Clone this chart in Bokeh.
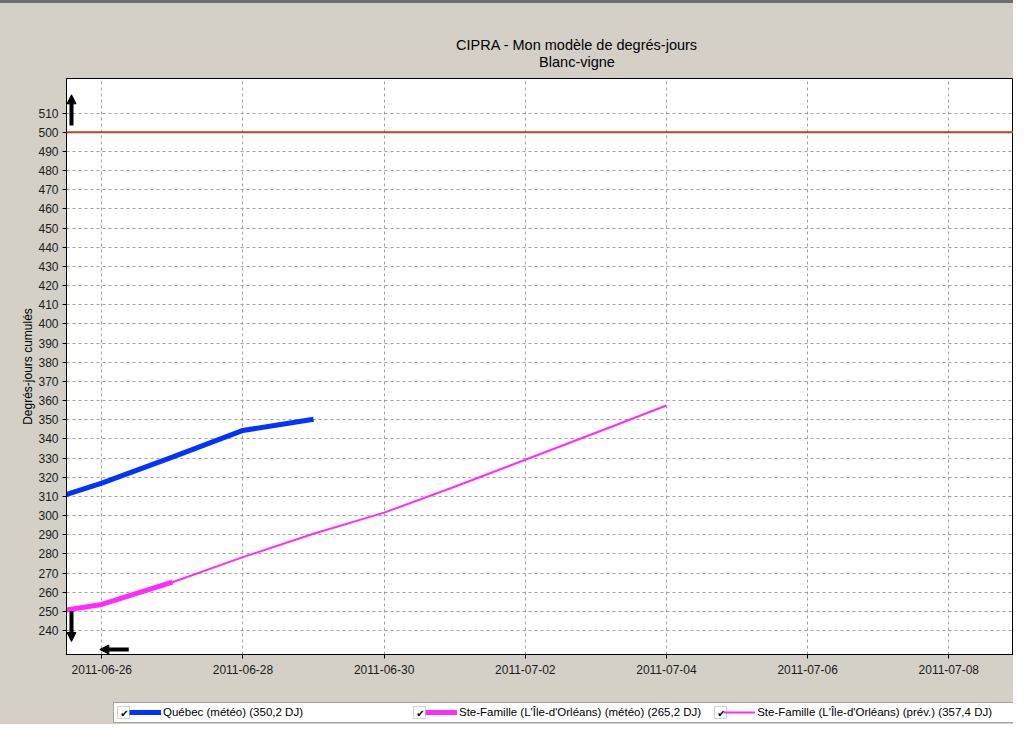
import pandas as pd
from bokeh.plotting import figure
from bokeh.layouts import column
from bokeh.models import (ColumnDataSource, Range1d, FixedTicker, DatetimeTickFormatter,
                          Span, Legend, LegendItem, Label, Arrow, NormalHead, BoxAnnotation)
from bokeh.embed import file_html
from bokeh.resources import INLINE

# ---------------- data ----------------
TITLE = "CIPRA - Mon modèle de degrés-jours"
SUBTITLE = "Blanc-vigne"
Y_LABEL = "Degrés-jours cumulés"

quebec_dates = ["2011-06-25", "2011-06-26", "2011-06-27", "2011-06-28", "2011-06-29"]
quebec_values = [305.0, 316.9, 330.5, 344.4, 350.2]

sf_meteo_dates = ["2011-06-25", "2011-06-26", "2011-06-27"]
sf_meteo_values = [248.0, 253.6, 265.2]

sf_prev_dates = ["2011-06-25", "2011-06-26", "2011-06-27", "2011-06-28", "2011-06-29",
                 "2011-06-30", "2011-07-01", "2011-07-02", "2011-07-03", "2011-07-04"]
sf_prev_values = [248.0, 253.6, 265.2, 278.3, 290.5, 301.5, 315.0, 329.1, 343.2, 357.4]

threshold = 500

legend_labels = ["Québec (météo) (350,2 DJ)",
                 "Ste-Famille (L'Île-d'Orléans) (météo) (265,2 DJ)",
                 "Ste-Famille (L'Île-d'Orléans) (prév.) (357,4 DJ)"]

y_ticks = list(range(240, 520, 10))
x_tick_dates = ["2011-06-26", "2011-06-28", "2011-06-30", "2011-07-02",
                "2011-07-04", "2011-07-06", "2011-07-08"]

x_start = "2011-06-25 12:00"
x_end = "2011-07-08 22:00"
y_start, y_end = 227.5, 528.0

# ---------------- helpers ----------------
def to_dt(lst):
    return [pd.Timestamp(d).to_pydatetime() for d in lst]

def to_ms(d):
    return pd.Timestamp(d).value / 1e6

BG = "#d4d0c8"
FONT = "Liberation Sans"
BLUE = "#0033ff"
MAG = "#ff2bff"
W = 1013
LEFT = 66


def strip(height):
    f = figure(width=W, height=height, output_backend="svg", toolbar_location=None, title=None,
               x_range=Range1d(0, 1), y_range=Range1d(0, 1),
               x_axis_location=None, y_axis_location=None,
               min_border_left=LEFT, min_border_right=0, min_border_top=0, min_border_bottom=0,
               background_fill_color=BG, background_fill_alpha=0, border_fill_color=BG,
               outline_line_color=None)
    f.xgrid.visible = False
    f.ygrid.visible = False
    return f

# ---------------- title strip ----------------
tf = strip(72)
for txt, yy in ((TITLE, 31), (SUBTITLE, 14)):
    tf.add_layout(Label(x=576.5 - LEFT, y=yy, x_units="screen", y_units="screen", text=txt,
                        text_font=FONT, text_font_size="14.5px", text_color="black",
                        text_align="center", text_baseline="middle"))

# ---------------- main chart ----------------
p = figure(width=W, height=618, x_axis_type="datetime",
           x_range=Range1d(pd.Timestamp(x_start).to_pydatetime(), pd.Timestamp(x_end).to_pydatetime()),
           y_range=Range1d(y_start, y_end),
           output_backend="svg", toolbar_location=None, title=None,
           min_border_left=LEFT, min_border_right=0, min_border_top=3, min_border_bottom=39,
           background_fill_color="white", border_fill_color=BG,
           outline_line_color="black", outline_line_width=1)

p.xaxis.ticker = FixedTicker(ticks=[to_ms(d) for d in x_tick_dates])
fmt = "%Y-%m-%d"
p.xaxis.formatter = DatetimeTickFormatter(days=fmt, months=fmt, years=fmt, hours=fmt,
                                          hourmin=fmt, minutes=fmt, minsec=fmt,
                                          seconds=fmt, milliseconds=fmt, microseconds=fmt)
p.yaxis.ticker = FixedTicker(ticks=y_ticks)
for ax in (p.xaxis, p.yaxis):
    ax.axis_line_color = "black"
    ax.major_tick_line_color = "black"
    ax.major_tick_out = 4
    ax.major_tick_in = 0
    ax.minor_tick_line_color = None
    ax.major_label_text_font = FONT
    ax.major_label_text_font_size = "12px"
    ax.major_label_text_color = "#1a1a1a"
p.xaxis.major_label_standoff = 6
p.yaxis.major_label_standoff = 4
p.yaxis.axis_label = Y_LABEL
p.yaxis.axis_label_text_font = FONT
p.yaxis.axis_label_text_font_size = "12px"
p.yaxis.axis_label_text_font_style = "normal"
p.yaxis.axis_label_text_color = "black"
p.yaxis.axis_label_standoff = 0

for g in (p.xgrid, p.ygrid):
    g.grid_line_color = "#a0a0a0"
    g.grid_line_dash = "3 3"
    g.grid_line_width = 1

p.add_layout(Span(location=threshold, dimension="width", line_color="#c04020", line_width=2))

p.line(to_dt(sf_prev_dates), sf_prev_values, line_color=MAG, line_width=2)
p.line(to_dt(sf_meteo_dates), sf_meteo_values, line_color=MAG, line_width=5)
p.line(to_dt(quebec_dates), quebec_values, line_color=BLUE, line_width=5)

# scroll arrows (kept just inside the frame so they are not clipped)
x0, x1 = to_ms(x_start), to_ms(x_end)
dx = (x1 - x0) * 5 / 947
dy = (y_end - y_start) * 5 / 576

def arrow(xs, ys, xe, ye):
    p.add_layout(Arrow(end=NormalHead(size=9, fill_color="black", line_color="black"),
                       x_start=xs, y_start=ys, x_end=xe, y_end=ye,
                       line_width=4, line_color="black"))

arrow(x0 + dx, 503.5, x0 + dx, 519.5)
arrow(x0 + dx, 250.0, x0 + dx, 234.3)
arrow(to_ms("2011-06-26 09:10"), y_start + dy, to_ms("2011-06-25 23:20"), y_start + dy)

# ---------------- legend strip ----------------
lf = strip(31)

def sbox(l, r, b, t, **kw):
    return BoxAnnotation(left=l, right=r, bottom=b, top=t,
                         left_units="screen", right_units="screen",
                         bottom_units="screen", top_units="screen", **kw)

# white legend box, extends past the right edge like the reference
lf.add_layout(sbox(113 - LEFT, 2000, 2, 22, fill_color="white", fill_alpha=1,
                   line_color="black", line_width=1, level="underlay"))

# checkboxes (at the start of each legend item)
for gx in (117, 413, 714):
    lf.add_layout(sbox(gx - LEFT, gx - LEFT + 12, 6, 18, fill_color="white", fill_alpha=1,
                       line_color="#6a6a6a", line_width=1))
    lf.add_layout(Label(x=gx - LEFT + 7, y=11.3, x_units="screen", y_units="screen", text="✔",
                        text_font="DejaVu Sans", text_font_size="10px", text_baseline="middle",
                        text_align="center", text_color="black"))

off = dict(x=[10, 11], y=[10, 11])   # outside the strip's ranges: only the legend glyph shows
lg1 = lf.line("x", "y", source=ColumnDataSource(off), line_color=BLUE, line_width=5, line_dash="0 16 32 0")
lg2 = lf.line("x", "y", source=ColumnDataSource(off), line_color=MAG, line_width=5, line_dash="0 16 32 0")
lg3 = lf.line("x", "y", source=ColumnDataSource(off), line_color=MAG, line_width=2, line_dash="0 16 32 0")

legend = Legend(items=[LegendItem(label=legend_labels[0], renderers=[lg1]),
                       LegendItem(label=legend_labels[1], renderers=[lg2]),
                       LegendItem(label=legend_labels[2], renderers=[lg3])],
                location=(113 - LEFT, 6), orientation="horizontal",
                glyph_width=48, glyph_height=12, label_height=12, label_width=240,
                label_standoff=2, spacing=6, padding=4, margin=0,
                border_line_color=None, background_fill_alpha=0,
                label_text_font=FONT, label_text_font_size="11.5px", label_text_color="black",
                label_text_baseline="middle")
lf.add_layout(legend)

layout = column(tf, p, lf, spacing=0,
                styles={"border-top": "3px solid #6e6e6e", "background-color": BG})
open("out.html", "w").write(file_html(layout, INLINE))
